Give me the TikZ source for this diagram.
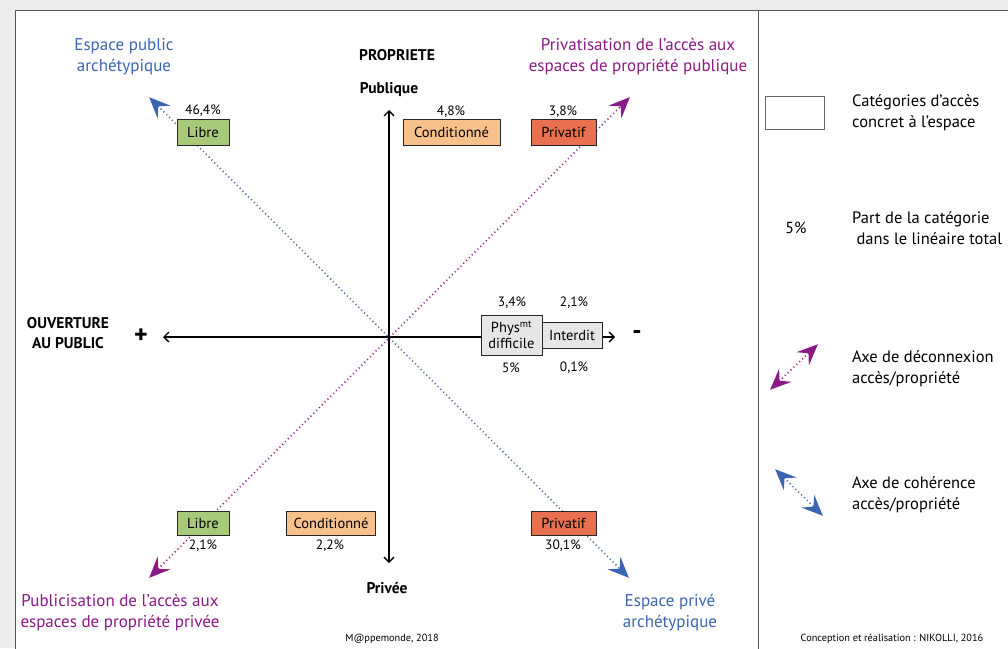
\documentclass[tikz,border=0pt]{standalone}
\usepackage{fontspec}
\setmainfont{PT Sans}
\usetikzlibrary{arrows.meta}
\definecolor{bggray}{HTML}{ECECEC}
\definecolor{frame}{HTML}{555555}
\definecolor{cblue}{HTML}{3A65B0}
\definecolor{cpurple}{HTML}{8A1A85}
\definecolor{fgreen}{HTML}{A8C87A}
\definecolor{forange}{HTML}{F8C08B}
\definecolor{fred}{HTML}{E8704F}
\definecolor{fgray}{HTML}{E6E6E6}
\tikzset{
  cat/.style={draw=black!85, line width=0.8pt, inner sep=0pt, font=\fontsize{14.5}{16}\selectfont, align=center},
  pct/.style={font=\fontsize{13.5}{15}\selectfont, inner sep=0pt},
  lab/.style={font=\fontsize{17}{21}\selectfont, align=center, inner sep=0pt},
  leg/.style={font=\fontsize{16.5}{21}\selectfont, align=left, inner sep=0pt, anchor=west},
  axlab/.style={font=\bfseries\fontsize{15.5}{20}\selectfont, align=center, inner sep=0pt},
  axis/.style={line width=1.3pt, {Straight Barb[length=5pt,width=10pt]}-{Straight Barb[length=5pt,width=10pt]}},
  diag/.style={line width=1.6pt, dash pattern=on 1pt off 3pt,
     {Stealth[length=21pt,width=18pt,inset=8pt,sep=-4pt]}-{Stealth[length=21pt,width=18pt,inset=8pt,sep=-4pt]}},
  foot/.style={font=\fontsize{10.3}{12}\selectfont, inner sep=0pt}
}
\begin{document}
\begin{tikzpicture}[x=1pt,y=-1pt]
\useasboundingbox (0,0) rectangle (1008,648);
\fill[bggray] (0,0) rectangle (1008,648);
\fill[white] (15,10) rectangle (1010,650);
\draw[frame, line width=1pt] (15,650) -- (15,10) -- (1010,10);
\draw[frame, line width=1pt] (758,10) -- (758,650);

% axis end points
\coordinate (top) at (389,110);
\coordinate (bot) at (389,563);
\coordinate (left) at (163,337);
\coordinate (right) at (615,337);
\coordinate (bUL) at (152,100);
\coordinate (bLR) at (626,575);
\coordinate (pLL) at (152,575);
\coordinate (pUR) at (627,100);

% diagonals
\draw[diag, cblue] (bUL) -- (bLR);
\draw[diag, cpurple] (pLL) -- (pUR);

% axes
\draw[axis] (top) -- (bot);
\draw[axis] (left) -- (right);

% top boxes
\node[cat, fill=fgreen, minimum width=52pt, minimum height=26pt] (libreT) at (203,132) {Libre};
\node[cat, fill=forange, minimum width=97pt, minimum height=26pt] (condT) at (451.5,132) {Conditionné};
\node[cat, fill=fred, minimum width=65pt, minimum height=26pt] (privT) at (563.5,132) {Privatif};
\node[pct] (pLibreT) at (203,111) {46,4\%};
\node[pct] (pCondT) at (451,112) {4,8\%};
\node[pct] (pPrivT) at (563,112) {3,8\%};

% bottom boxes
\node[cat, fill=fgreen, minimum width=52pt, minimum height=24pt] (libreB) at (203,523) {Libre};
\node[cat, fill=forange, minimum width=89pt, minimum height=24pt] (condB) at (331,523) {Conditionné};
\node[cat, fill=fred, minimum width=65pt, minimum height=24pt] (privB) at (563.5,523) {Privatif};
\node[pct] (pLibreB) at (203,546) {2,1\%};
\node[pct] (pCondB) at (330,546) {2,2\%};
\node[pct] (pPrivB) at (563,546) {30,1\%};

% middle right boxes
\node[cat, fill=fgray, minimum width=60pt, minimum height=26pt] (interdit) at (572,335) {Interdit};
\node[cat, fill=fgray, minimum width=61pt, minimum height=40pt, font=\fontsize{14.5}{16}\selectfont] (phys) at (511.5,335) {Phys\textsuperscript{mt}\\difficile};
\node[pct] (p34) at (512,303) {3,4\%};
\node[pct] (p21) at (574,303) {2,1\%};
\node[pct] (p5) at (511,368) {5\%};
\node[pct] (p01) at (574,368) {0,1\%};

% axis labels
\node[axlab] (propriete) at (397,55) {PROPRIETE};
\node[axlab] (publique) at (389,90) {Publique};
\node[axlab] (privee) at (387,588) {Privée};
\node[axlab] (ouverture) at (68,333) {OUVERTURE\\AU PUBLIC};
\node[font=\bfseries\fontsize{26}{26}\selectfont, inner sep=0pt] (plus) at (141,336) {+};
\node[font=\bfseries\fontsize{26}{26}\selectfont, inner sep=0pt] (minus) at (637,335) {-};

% corner labels
\node[lab, text=cblue] (epa) at (124,57) {Espace public\\archétypique};
\node[lab, text=cpurple] (priv) at (638,57) {Privatisation de l’accès aux\\espaces de propriété publique};
\node[lab, text=cpurple] (publ) at (120,613) {Publicisation de l’accès aux\\espaces de propriété privée};
\node[lab, text=cblue] (epr) at (670,613) {Espace privé\\archétypique};

% footers
\node[foot] (mappe) at (392,639) {M@ppemonde, 2018};
\node[foot] (concep) at (892,639) {Conception et réalisation : NIKOLLI, 2016};

% legend
\node[draw=black!60, line width=0.8pt, minimum width=59pt, minimum height=33pt, inner sep=0pt] (legbox) at (794.5,112.5) {};
\node[leg] (legcat) at (852,113) {Catégories d’accès\\concret à l’espace};
\node[pct, font=\fontsize{16}{18}\selectfont] (leg5) at (796,228) {5\%};
\node[leg] (legpart) at (852,228) {Part de la catégorie\\\ dans le linéaire total};
\coordinate (lp1) at (815,347);
\coordinate (lp2) at (773,387);
\draw[diag, cpurple] (lp2) -- (lp1);
\node[leg] (legdec) at (852,369) {Axe de déconnexion\\accès/propriété};
\coordinate (lb1) at (778,472);
\coordinate (lb2) at (820,513);
\draw[diag, cblue] (lb1) -- (lb2);
\node[leg] (legcoh) at (852,495) {Axe de cohérence\\accès/propriété};
\end{tikzpicture}
\end{document}
